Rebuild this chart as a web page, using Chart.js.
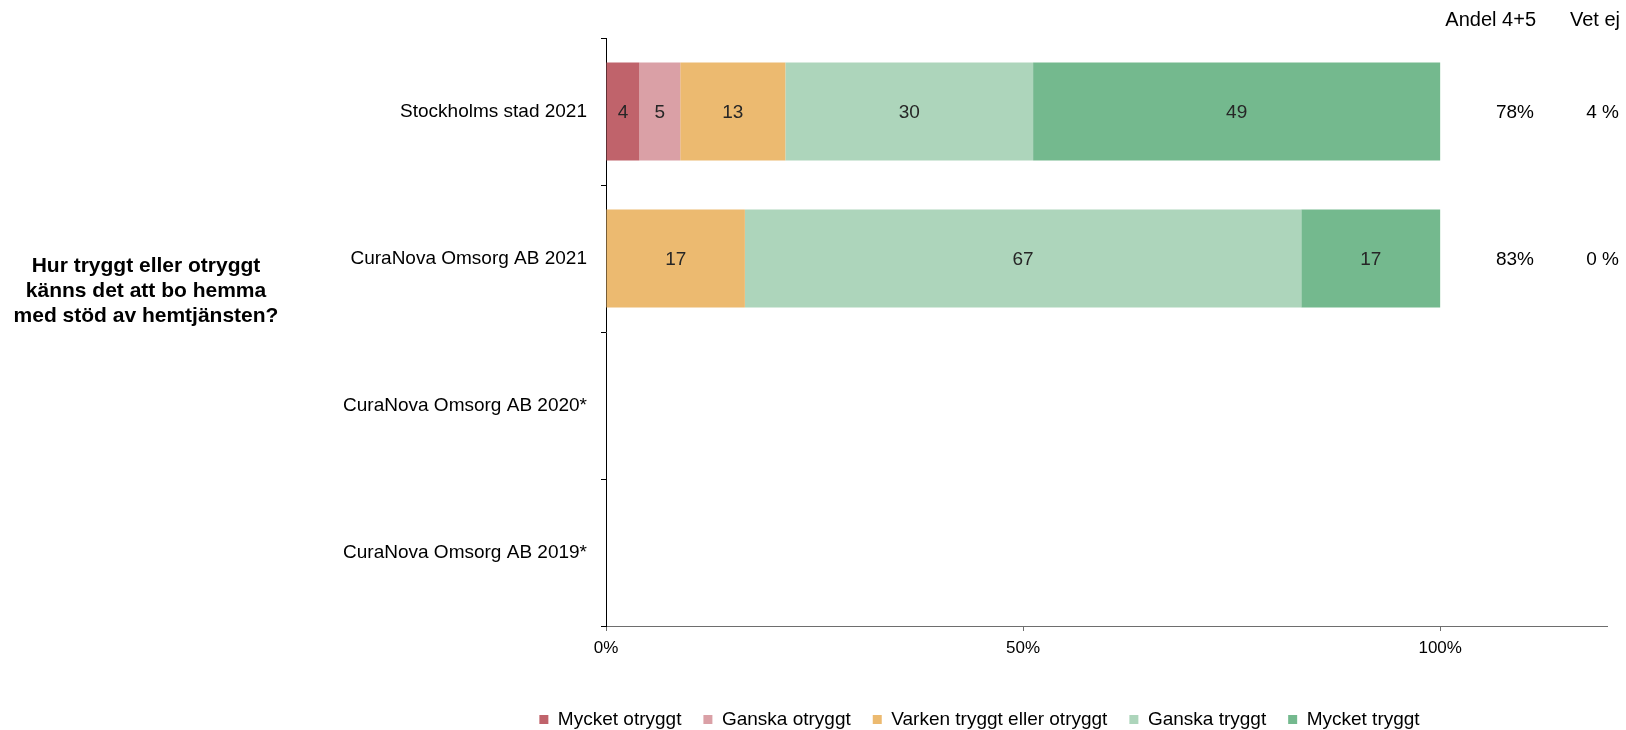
<!DOCTYPE html>
<html>
<head>
<meta charset="utf-8">
<script src="https://cdn.jsdelivr.net/npm/chart.js@4"></script>
<style>
    body { margin: 0; background: #fff; }
    canvas { display: block; }
</style>
</head>
<body>
<canvas id="myChart" width="1626" height="730"></canvas>
<script>
const categories = ['Stockholms stad 2021', 'CuraNova Omsorg AB 2021', 'CuraNova Omsorg AB 2020*', 'CuraNova Omsorg AB 2019*'];
const mycketOtryggt = [4.0, null, null, null];
const ganskaOtryggt = [4.9, null, null, null];
const varken = [12.6, 16.65, null, null];
const ganskaTryggt = [29.7, 66.7, null, null];
const mycketTryggt = [48.8, 16.65, null, null];
const andel45 = [78, 83, null, null];
const vetEj = [4, 0, null, null];
const xTicks = [0, 50, 100];
const question = ['Hur tryggt eller otryggt', 'känns det att bo hemma', 'med stöd av hemtjänsten?'];

Chart.defaults.font.family = '"Liberation Sans", Arial, sans-serif';
Chart.defaults.color = '#000';

// siffror mitt i varje stapeldel
const valueLabels = {
    id: 'valueLabels',
    afterDatasetsDraw(chart) {
        const ctx = chart.ctx;
        ctx.save();
        ctx.font = '19px "Liberation Sans", Arial, sans-serif';
        ctx.fillStyle = '#262626';
        ctx.textAlign = 'center';
        ctx.textBaseline = 'middle';
        chart.data.datasets.forEach((ds, i) => {
            chart.getDatasetMeta(i).data.forEach((bar, j) => {
                if (ds.data[j] === null) return;
                const p = bar.getProps(['x', 'y', 'base'], true);
                ctx.fillText(Math.round(ds.data[j]), (p.x + p.base) / 2, p.y + 1);
            });
        });
        ctx.restore();
    }
};

// frågetext till vänster + kolumnerna Andel 4+5 / Vet ej
const sideTexts = {
    id: 'sideTexts',
    afterLayout(chart) {
        // legenden ligger lite till höger om mitten i originalet
        chart.legend.left += 11;
        chart.legend.right += 11;
    },
    afterDraw(chart) {
        const ctx = chart.ctx;
        const y = chart.scales.y;
        ctx.save();
        ctx.fillStyle = '#000';
        ctx.textBaseline = 'middle';
        ctx.font = 'bold 21px "Liberation Sans", Arial, sans-serif';
        ctx.textAlign = 'center';
        question.forEach((line, i) => {
            ctx.fillText(line, 146, 266 + i * 25);
        });
        ctx.font = '20px "Liberation Sans", Arial, sans-serif';
        ctx.textAlign = 'right';
        ctx.fillText('Andel 4+5', 1536, 20);
        ctx.fillText('Vet ej', 1620, 20);
        ctx.font = '19px "Liberation Sans", Arial, sans-serif';
        categories.forEach((c, i) => {
            const py = y.getPixelForValue(i) + 1;
            if (andel45[i] !== null) ctx.fillText(andel45[i] + '%', 1534, py);
            if (vetEj[i] !== null) ctx.fillText(vetEj[i] + ' %', 1619, py);
        });
        ctx.restore();
    }
};

const data = {
    labels: categories,
    datasets: [
        { label: 'Mycket otryggt', data: mycketOtryggt, backgroundColor: '#C0636B' },
        { label: 'Ganska otryggt', data: ganskaOtryggt, backgroundColor: '#DAA0A6' },
        { label: 'Varken tryggt eller otryggt', data: varken, backgroundColor: '#ECBA70' },
        { label: 'Ganska tryggt', data: ganskaTryggt, backgroundColor: '#ADD5BB' },
        { label: 'Mycket tryggt', data: mycketTryggt, backgroundColor: '#74B98E' }
    ]
};

const config = {
    type: 'bar',
    data: data,
    options: {
        indexAxis: 'y',
        responsive: false,
        animation: false,
        barPercentage: 0.666,
        categoryPercentage: 1,
        layout: { padding: { left: 330, right: 19, top: 38, bottom: 0 } },
        plugins: {
            tooltip: { enabled: false },
            legend: {
                position: 'bottom',
                maxHeight: 42,
                labels: {
                    boxWidth: 9,
                    boxHeight: 9,
                    padding: 22,
                    font: { size: 19 },
                    color: '#000'
                }
            }
        },
        scales: {
            x: {
                stacked: true,
                min: 0,
                max: 120,
                afterBuildTicks: (scale) => { scale.ticks = xTicks.map(v => ({ value: v })); },
                afterFit: (scale) => { scale.height = 62; },
                grid: { drawOnChartArea: false, tickLength: 5, color: '#6e6e6e' },
                border: { color: '#6e6e6e' },
                ticks: {
                    padding: 7,
                    font: { size: 17 },
                    color: '#000',
                    callback: (v) => v + '%'
                }
            },
            y: {
                stacked: true,
                afterFit: (scale) => { scale.width = 606 - 330; },
                grid: { drawOnChartArea: false, offset: true, tickLength: 5, color: '#000' },
                border: { color: '#000' },
                ticks: { padding: 14, font: { size: 19 }, color: '#000' }
            }
        }
    },
    plugins: [valueLabels, sideTexts]
};

let myChart = new Chart(document.getElementById('myChart').getContext('2d'), config);
</script>
</body>
</html>
